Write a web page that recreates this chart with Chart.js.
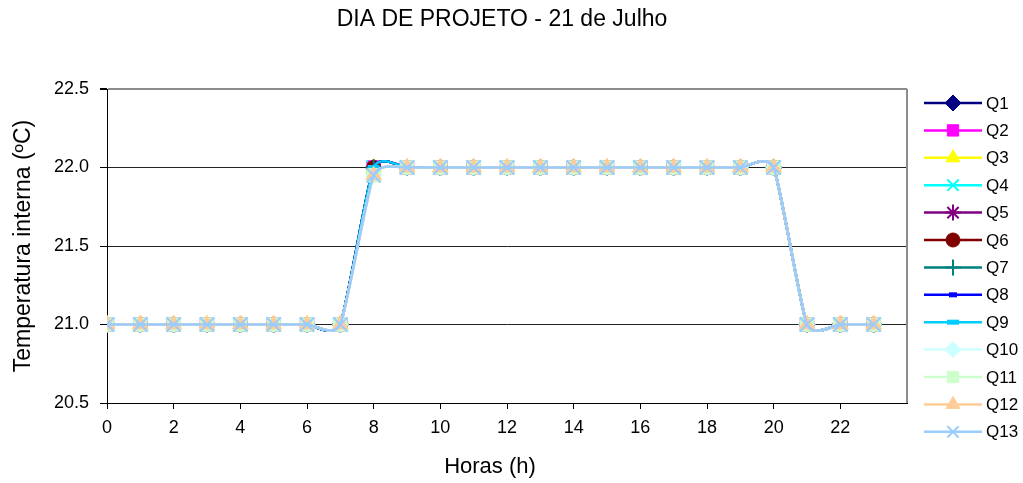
<!DOCTYPE html>
<html>
<head>
<meta charset="utf-8">
<script src="https://cdn.jsdelivr.net/npm/chart.js@4/dist/chart.umd.min.js"></script>
<style>
  html, body { margin: 0; padding: 0; background: #fff; }
  #wrap { width: 1023px; height: 483px; }
</style>
</head>
<body>
<div id="wrap"><canvas id="chart" width="1023" height="483"></canvas></div>
<script>
// Data
const hours = [0, 1, 2, 3, 4, 5, 6, 7, 8, 9, 10, 11, 12, 13, 14, 15, 16, 17, 18, 19, 20, 21, 22, 23];
// Q1 - Q9 reach 22.0 at 8h, Q10 - Q13 a bit lower
const tempQ1toQ9 = [21, 21, 21, 21, 21, 21, 21, 21, 22, 22, 22, 22, 22, 22, 22, 22, 22, 22, 22, 22, 22, 21, 21, 21];
const tempQ10toQ13 = [21, 21, 21, 21, 21, 21, 21, 21, 21.95, 22, 22, 22, 22, 22, 22, 22, 22, 22, 22, 22, 22, 21, 21, 21];
const seriesNames = ['Q1', 'Q2', 'Q3', 'Q4', 'Q5', 'Q6', 'Q7', 'Q8', 'Q9', 'Q10', 'Q11', 'Q12', 'Q13'];
const seriesValues = [
    tempQ1toQ9, tempQ1toQ9, tempQ1toQ9, tempQ1toQ9, tempQ1toQ9, tempQ1toQ9, tempQ1toQ9, tempQ1toQ9, tempQ1toQ9,
    tempQ10toQ13, tempQ10toQ13, tempQ10toQ13, tempQ10toQ13
];
const yTicks = [20.5, 21.0, 21.5, 22.0, 22.5];
const xTickStep = 2;

const chartTitle = 'DIA DE PROJETO - 21 de Julho';
const xTitle = 'Horas (h)';
const yTitle = 'Temperatura interna (ºC)';

// Styles per series (Excel default palette)
const seriesStyles = [
    { color: '#000080', marker: 'rectRot', radius: 8, bw: 1 },
    { color: '#FF00FF', marker: 'rect', radius: 9.5, bw: 1 },
    { color: '#FFFF00', marker: 'triangle', radius: 9, bw: 1 },
    { color: '#00FFFF', marker: 'crossRot', radius: 10, bw: 2 },
    { color: '#800080', marker: 'star', radius: 8, bw: 2 },
    { color: '#800000', marker: 'circle', radius: 7, bw: 1 },
    { color: '#008080', marker: 'cross', radius: 8, bw: 2 },
    { color: '#0000FF', marker: 'line', radius: 4, bw: 5 },
    { color: '#00CCFF', marker: 'line', radius: 6, bw: 5 },
    { color: '#CCFFFF', marker: 'rectRot', radius: 8, bw: 1 },
    { color: '#CCFFCC', marker: 'rect', radius: 9.5, bw: 1 },
    { color: '#FFCC99', marker: 'triangle', radius: 9, bw: 1 },
    { color: '#99CCFF', marker: 'crossRot', radius: 10, bw: 2 }
];

// Excel style smoothing: uniform Catmull-Rom-like control points
const SMOOTH_K = 0.09;

const FONT = '"Liberation Sans", Arial, sans-serif';
Chart.defaults.font.family = FONT;
Chart.defaults.color = '#000';

const datasets = seriesNames.map((name, i) => {
    const s = seriesStyles[i];
    return {
        label: name,
        data: seriesValues[i],
        borderColor: s.color,
        backgroundColor: s.color,
        borderWidth: 2.5,
        tension: 0.35,
        pointStyle: s.marker,
        pointRadius: s.radius,
        pointBorderWidth: s.bw,
        pointBackgroundColor: s.color,
        pointBorderColor: s.color,
        order: seriesNames.length - 1 - i // later series drawn on top
    };
});

const excelSmooth = {
    id: 'excelSmooth',
    beforeDatasetsDraw(chart) {
        chart.getSortedVisibleDatasetMetas().forEach(meta => {
            const line = meta.dataset;
            const pts = meta.data;
            line.updateControlPoints(chart.chartArea, 'x');
            for (let i = 0; i < pts.length; i++) {
                const prev = pts[Math.max(i - 1, 0)];
                const next = pts[Math.min(i + 1, pts.length - 1)];
                const dx = (next.x - prev.x) * SMOOTH_K;
                const dy = (next.y - prev.y) * SMOOTH_K;
                pts[i].cp1x = pts[i].x - dx;
                pts[i].cp1y = pts[i].y - dy;
                pts[i].cp2x = pts[i].x + dx;
                pts[i].cp2y = pts[i].y + dy;
            }
            line._path = undefined;
        });
    }
};

// Plot frame (grey right edge), titles and Excel-like legend
const frameAndLegend = {
    id: 'frameAndLegend',
    beforeDatasetsDraw(chart) {
        const { ctx, chartArea: a } = chart;
        ctx.save();
        ctx.strokeStyle = '#8c8c8c';
        ctx.lineWidth = 2;
        ctx.beginPath();
        ctx.moveTo(a.right, a.top);
        ctx.lineTo(a.right, a.bottom);
        ctx.stroke();
        ctx.restore();
    },
    afterDraw(chart) {
        const ctx = chart.ctx;
        ctx.save();
        ctx.fillStyle = '#000';
        ctx.textAlign = 'center';
        ctx.textBaseline = 'middle';
        ctx.font = '23px ' + FONT;
        ctx.fillText(chartTitle, 502, 20);
        ctx.font = '22px ' + FONT;
        ctx.fillText(xTitle, 490, 467);

        chart.data.datasets.forEach((ds, i) => {
            const s = seriesStyles[i];
            const y = 103 + i * 27.4;
            ctx.strokeStyle = s.color;
            ctx.fillStyle = s.color;
            ctx.lineWidth = 2.5;
            ctx.beginPath();
            ctx.moveTo(924, y);
            ctx.lineTo(982, y);
            ctx.stroke();
            ctx.lineWidth = s.bw;
            const r = s.marker === 'line' ? s.radius : Math.min(s.radius, 8);
            Chart.helpers.drawPoint(ctx, { pointStyle: s.marker, radius: r, borderWidth: s.bw, rotation: 0 }, 953, y);
            ctx.fillStyle = '#000';
            ctx.font = '17px ' + FONT;
            ctx.textBaseline = 'middle';
            ctx.textAlign = 'left';
            ctx.fillText(ds.label, 986, y + 1);
        });
        ctx.restore();
    }
};

new Chart(document.getElementById('chart'), {
    type: 'line',
    data: { labels: hours, datasets: datasets },
    plugins: [excelSmooth, frameAndLegend],
    options: {
        responsive: false,
        animation: false,
        events: [],
        layout: { padding: { left: 0, right: 116, top: 89, bottom: 0 } },
        plugins: {
            legend: { display: false },
            tooltip: { enabled: false },
            title: { display: false }
        },
        scales: {
            x: {
                type: 'linear',
                min: 0,
                max: 24,
                afterFit: s => { s.height = 80; },
                afterBuildTicks: s => {
                    s.ticks = s.ticks.filter(t => t.value < 24);
                },
                ticks: {
                    stepSize: xTickStep,
                    font: { size: 18 },
                    padding: 8,
                    maxRotation: 0,
                    autoSkip: false
                },
                grid: {
                    drawOnChartArea: false,
                    drawTicks: true,
                    tickLength: 6,
                    tickColor: '#000'
                },
                border: { display: true, color: '#000', width: 1 }
            },
            y: {
                min: 20.5,
                max: 22.5,
                afterFit: s => { s.width = 107; },
                afterBuildTicks: s => {
                    s.ticks = yTicks.map(v => ({ value: v }));
                },
                ticks: {
                    font: { size: 18 },
                    padding: 11,
                    callback: v => Number(v).toFixed(1)
                },
                grid: {
                    color: c => (c.tick && c.tick.value === 22.5) ? '#8c8c8c' : '#222',
                    lineWidth: c => (c.tick && c.tick.value === 22.5) ? 2 : 1,
                    tickLength: 7,
                    tickColor: '#000'
                },
                border: { display: true, color: '#000', width: 1 },
                title: {
                    display: true,
                    text: yTitle,
                    font: { size: 23 },
                    padding: { top: 10, bottom: 0 }
                }
            }
        }
    }
});
</script>
</body>
</html>
